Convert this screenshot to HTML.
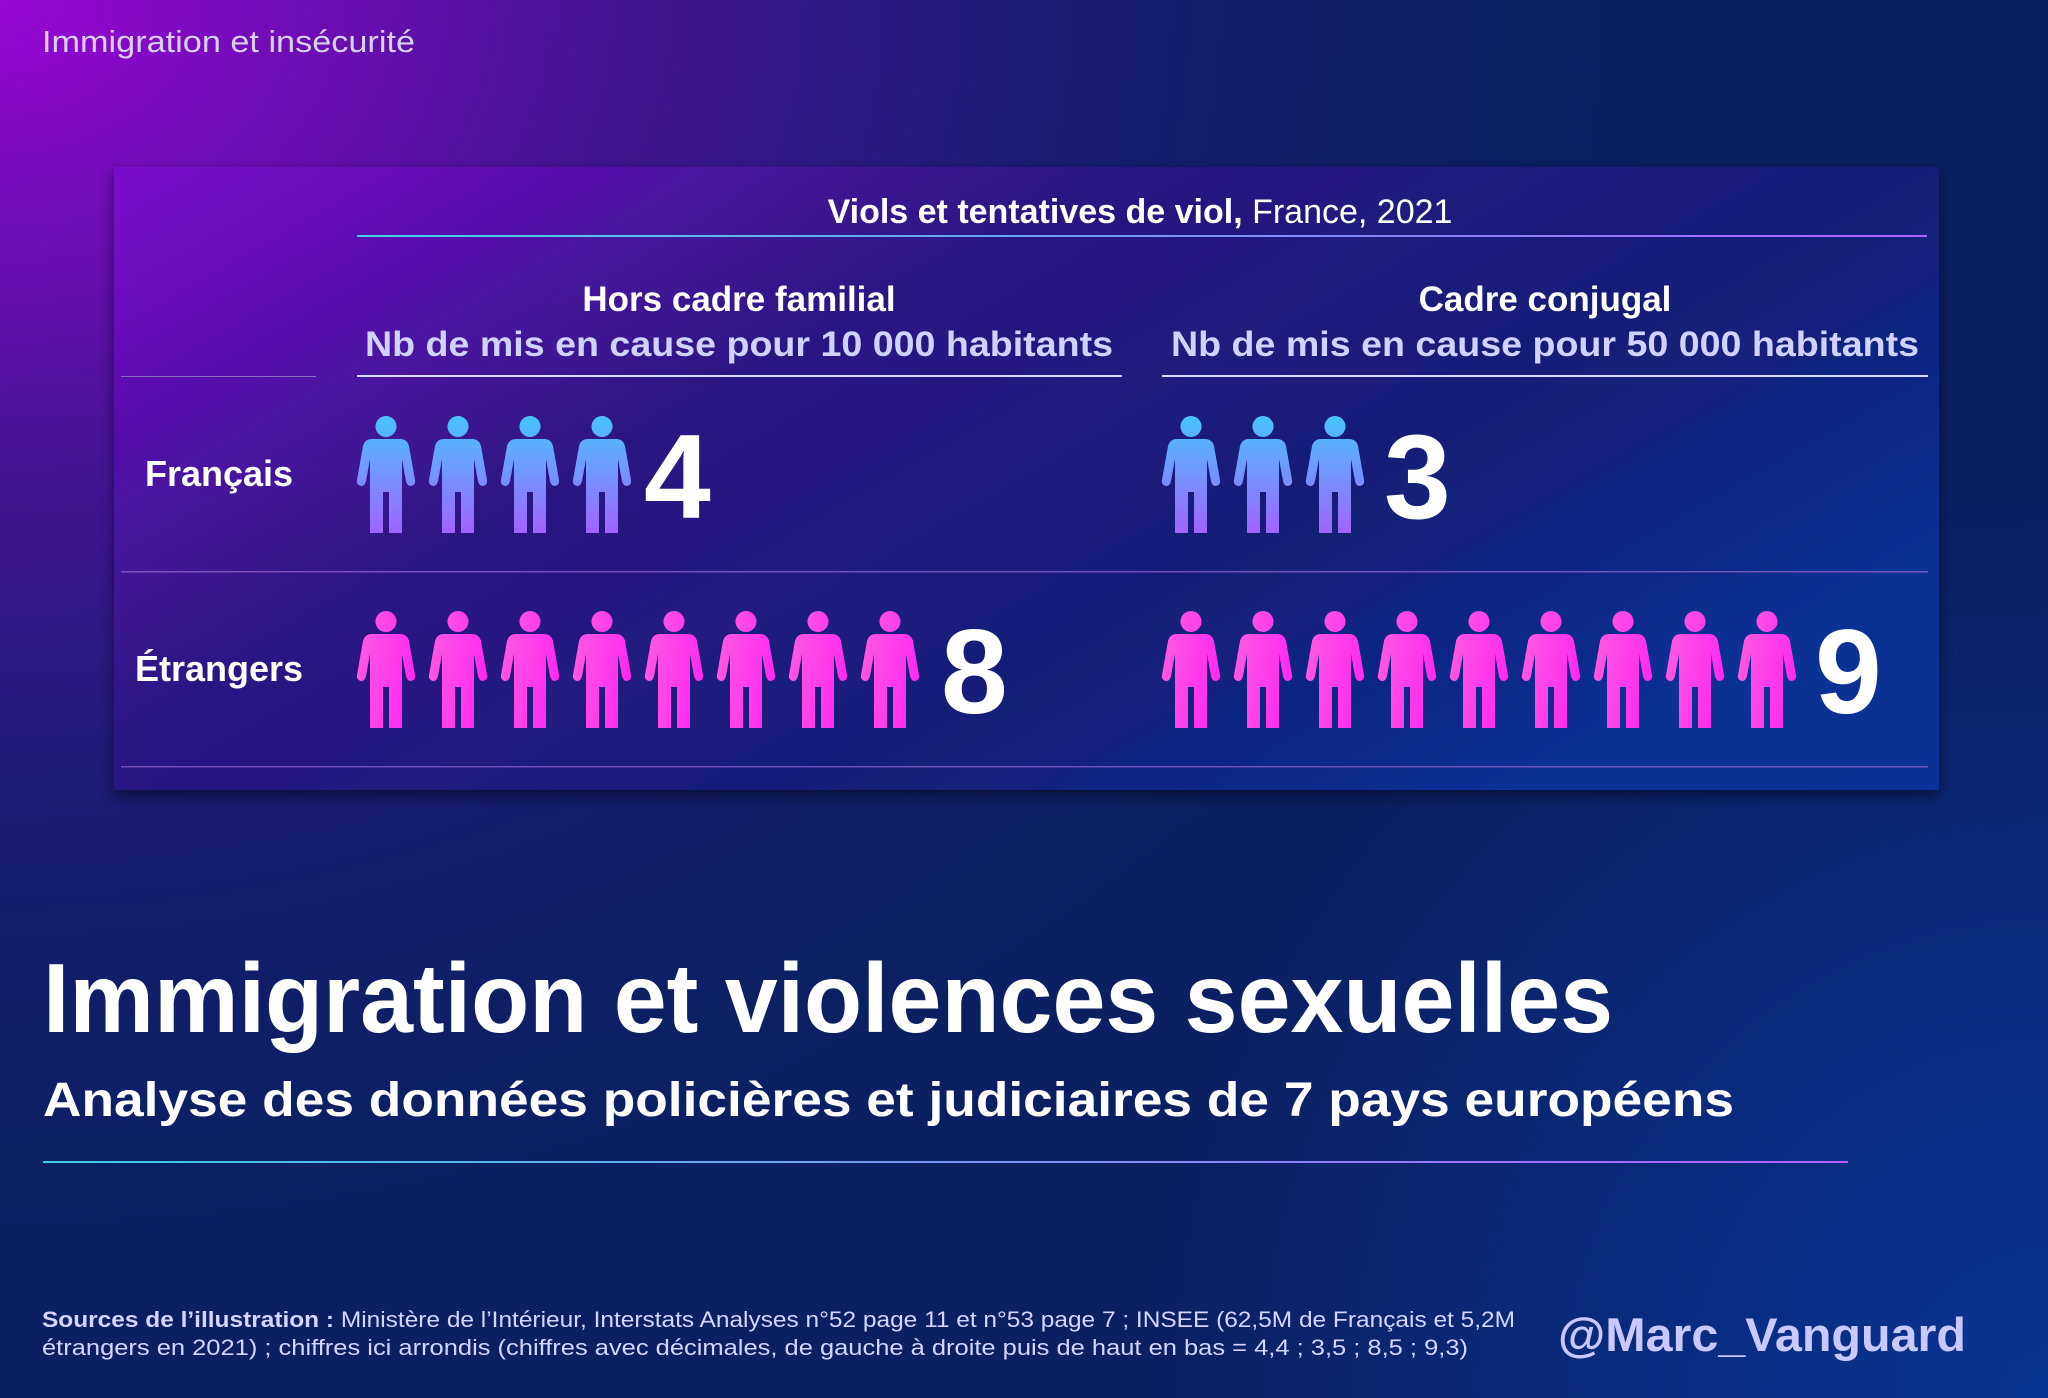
<!DOCTYPE html>
<html><head><meta charset="utf-8"><style>
html,body{margin:0;padding:0;width:2048px;height:1398px;overflow:hidden}
body{background:#0b2063}
svg{display:block}
text{font-family:"Liberation Sans",sans-serif}
</style></head><body>
<svg width="2048" height="1398" viewBox="0 0 2048 1398" xmlns="http://www.w3.org/2000/svg">
<defs>
<radialGradient id="bgp" cx="0" cy="0" r="1" gradientUnits="userSpaceOnUse" gradientTransform="translate(0,0) scale(1700,1300)">
<stop offset="0" stop-color="#9a06d6"/><stop offset="0.3" stop-color="#5a10a6" stop-opacity="0.9"/><stop offset="0.7" stop-color="#1e1a78" stop-opacity="0.45"/><stop offset="1" stop-color="#0b2063" stop-opacity="0"/>
</radialGradient>
<radialGradient id="bgb" cx="2048" cy="1398" r="900" gradientUnits="userSpaceOnUse">
<stop offset="0" stop-color="#0a3494"/><stop offset="1" stop-color="#0a3494" stop-opacity="0"/>
</radialGradient>
<linearGradient id="card" x1="0" y1="0" x2="1" y2="0.6">
<stop offset="0" stop-color="#7e0cd0"/><stop offset="0.4" stop-color="#2c1684"/><stop offset="0.75" stop-color="#142078"/><stop offset="1" stop-color="#0b3098"/>
</linearGradient>
<linearGradient id="ln" x1="0" y1="0" x2="1" y2="0">
<stop offset="0" stop-color="#3fd0e8"/><stop offset="1" stop-color="#b060ff"/>
</linearGradient>
<linearGradient id="gb" x1="0" y1="0" x2="0" y2="1">
<stop offset="0" stop-color="#48c4ff"/><stop offset="1" stop-color="#a064ff"/>
</linearGradient>
<linearGradient id="gp" x1="0" y1="0" x2="1" y2="0.3">
<stop offset="0" stop-color="#ff5ee0"/><stop offset="1" stop-color="#ff2cf0"/>
</linearGradient>
<filter id="sh" x="-5%" y="-5%" width="110%" height="115%"><feDropShadow dx="0" dy="6" stdDeviation="7" flood-color="#000" flood-opacity="0.5"/></filter>
<path id="p" d="M29,0 a10.5,10.5 0 1 1 -0.01,0 Z M15,23 H43 Q50,23 52,30 L58,64 Q59,69 54,70 Q50,70 49,65 L45,43 V117 H32 V76 H26 V117 H13 V43 L9,65 Q8,70 4,70 Q-1,69 0,64 L6,30 Q8,23 15,23 Z"/>
</defs>
<rect width="2048" height="1398" fill="#0b2063"/>
<rect width="2048" height="1398" fill="url(#bgb)"/>
<rect width="2048" height="1398" fill="url(#bgp)"/>

<text x="42" y="52" font-size="31" fill="#d8d0f0" textLength="373" lengthAdjust="spacingAndGlyphs">Immigration et insécurité</text>

<rect x="114" y="167" width="1825" height="623" fill="url(#card)" filter="url(#sh)" opacity="0.95"/>

<text x="1140" y="223" font-size="34" text-anchor="middle" fill="#fff"><tspan font-weight="bold">Viols et tentatives de viol,</tspan> France, 2021</text>
<rect x="357" y="235" width="1570" height="2" fill="url(#ln)"/>

<text x="739" y="311" font-size="35" font-weight="bold" fill="#fff" text-anchor="middle">Hors cadre familial</text>
<text x="739" y="356" font-size="35" font-weight="bold" fill="#d0d2ff" text-anchor="middle" textLength="748" lengthAdjust="spacingAndGlyphs">Nb de mis en cause pour 10 000 habitants</text>
<text x="1545" y="311" font-size="35" font-weight="bold" fill="#fff" text-anchor="middle">Cadre conjugal</text>
<text x="1545" y="356" font-size="35" font-weight="bold" fill="#d0d2ff" text-anchor="middle" textLength="748" lengthAdjust="spacingAndGlyphs">Nb de mis en cause pour 50 000 habitants</text>
<rect x="357" y="375" width="765" height="2" fill="#d8dcff"/>
<rect x="1162" y="375" width="766" height="2" fill="#d8dcff"/>
<rect x="121" y="376" width="195" height="1" fill="#8a70c0"/>
<rect x="121" y="571" width="1807" height="1.5" fill="#8a5cc8" opacity="0.8"/>
<rect x="121" y="766" width="1807" height="1.5" fill="#8a5cc8" opacity="0.8"/>

<text x="219" y="486" font-size="36" font-weight="bold" fill="#fff" text-anchor="middle">Français</text>
<text x="219" y="681" font-size="36" font-weight="bold" fill="#fff" text-anchor="middle">Étrangers</text>

<g fill="url(#gb)">
<use href="#p" x="357" y="416"/><use href="#p" x="429" y="416"/><use href="#p" x="501" y="416"/><use href="#p" x="573" y="416"/>
<use href="#p" x="1162" y="416"/><use href="#p" x="1234" y="416"/><use href="#p" x="1306" y="416"/>
</g>
<g fill="url(#gp)">
<use href="#p" x="357" y="611"/><use href="#p" x="429" y="611"/><use href="#p" x="501" y="611"/><use href="#p" x="573" y="611"/><use href="#p" x="645" y="611"/><use href="#p" x="717" y="611"/><use href="#p" x="789" y="611"/><use href="#p" x="861" y="611"/>
<use href="#p" x="1162" y="611"/><use href="#p" x="1234" y="611"/><use href="#p" x="1306" y="611"/><use href="#p" x="1378" y="611"/><use href="#p" x="1450" y="611"/><use href="#p" x="1522" y="611"/><use href="#p" x="1594" y="611"/><use href="#p" x="1666" y="611"/><use href="#p" x="1738" y="611"/>
</g>
<g font-size="120" font-weight="bold" fill="#fff">
<text x="644" y="518">4</text>
<text x="1384" y="518">3</text>
<text x="941" y="713">8</text>
<text x="1815" y="713">9</text>
</g>

<text x="43" y="1032" font-size="98" font-weight="bold" fill="#fff" textLength="1570" lengthAdjust="spacingAndGlyphs">Immigration et violences sexuelles</text>
<text x="43" y="1116" font-size="48" font-weight="bold" fill="#fff" textLength="1691" lengthAdjust="spacingAndGlyphs">Analyse des données policières et judiciaires de 7 pays européens</text>
<rect x="43" y="1161" width="1805" height="2" fill="url(#ln)"/>

<text x="42" y="1327" font-size="22" fill="#d4d6ff" textLength="1473" lengthAdjust="spacingAndGlyphs"><tspan font-weight="bold">Sources de l’illustration :</tspan> Ministère de l’Intérieur, Interstats Analyses n°52 page 11 et n°53 page 7 ; INSEE (62,5M de Français et 5,2M</text>
<text x="42" y="1355" font-size="22" fill="#d4d6ff" textLength="1426" lengthAdjust="spacingAndGlyphs">étrangers en 2021) ; chiffres ici arrondis (chiffres avec décimales, de gauche à droite puis de haut en bas = 4,4 ; 3,5 ; 8,5 ; 9,3)</text>
<text x="1558" y="1351" font-size="47" font-weight="bold" fill="#c8caff" textLength="408" lengthAdjust="spacingAndGlyphs">@Marc_Vanguard</text>
</svg>
</body></html>
